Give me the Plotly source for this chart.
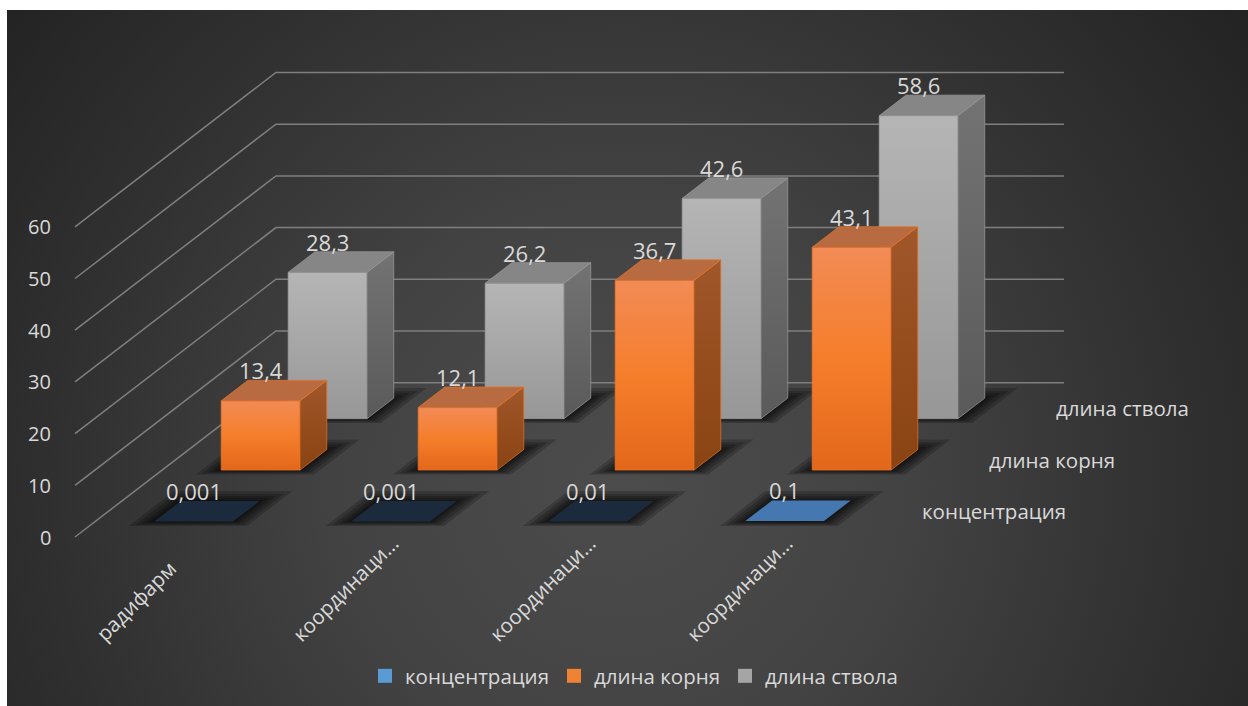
import base64
import plotly.graph_objects as go

# ---------------- data ----------------
CATEGORIES = ["радифарм", "координаци…", "координаци…", "координаци…"]
SERIES_NAMES = ["концентрация", "длина корня", "длина ствола"]
CONCENTRATION = [0.001, 0.001, 0.01, 0.1]
ROOT_LENGTH = [13.4, 12.1, 36.7, 43.1]
STEM_LENGTH = [28.3, 26.2, 42.6, 58.6]
VALUE_TICKS = [0, 10, 20, 30, 40, 50, 60]

SERIES_VALUES = [CONCENTRATION, ROOT_LENGTH, STEM_LENGTH]

# ---------------- styling ----------------
W, H = 1248, 706
FONT = "Open Sans"
LABEL_SIZE = 22      # data labels
TICK_SIZE = 20       # value-axis numbers
TEXT_SIZE = 20.5     # category / series / legend text
TEXT_COLOR = "#d9d9d9"
GRID_COLOR = "#7f7f7f"

# oblique projection: one depth row moves a point right/up by this much
DEPTH_U = 0.34      # in category units
DEPTH_V = 9.95      # in value units
N_ROWS = 3
BAR_LO, BAR_HI = 0.30, 0.70       # bar extent inside a category slot
DEPTH_LO, DEPTH_HI = 0.30, 0.70   # bar extent inside a depth row

FACE_STYLE = [
    dict(front=[[0, "#2f5f92"], [1, "#3f74ad"]],
         side=[[0, "#1f3f62"], [1, "#2a4f78"]],
         top=["#1b2b3d", "#1b2b3d", "#1b2b3d", "#4577b0"],
         edge="rgba(0,0,0,0)"),
    dict(front=[[0, "#e3671a"], [0.5, "#f57e2b"], [1, "#f28b56"]],
         side=[[0, "#8a4312"], [1, "#a0572a"]],
         top=["#b86a40"] * 4,
         edge="#e8742a"),
    dict(front=[[0, "#979797"], [1, "#b5b5b5"]],
         side=[[0, "#5a5a5a"], [1, "#737373"]],
         top=["#868686"] * 4,
         edge="#9c9c9c"),
]
LEGEND_COLORS = ["#5b9bd5", "#f08233", "#a5a5a5"]


def project(u, d, v):
    return u + d * DEPTH_U, v + d * DEPTH_V


def polygon(points):
    xs, ys = [], []
    for u, d, v in points:
        x, y = project(u, d, v)
        xs.append(x)
        ys.append(y)
    xs.append(xs[0])
    ys.append(ys[0])
    return xs, ys


def face(points, fill=None, gradient=None, edge="rgba(0,0,0,0)", width=0.7):
    xs, ys = polygon(points)
    kw = dict(x=xs, y=ys, mode="lines", fill="toself", hoverinfo="skip",
              showlegend=False, line=dict(color=edge, width=width))
    if gradient is not None:
        kw["fillgradient"] = dict(type="vertical", colorscale=gradient)
    else:
        kw["fillcolor"] = fill
    return go.Scatter(**kw)


def fmt(v):
    return f"{v:g}".replace(".", ",")


def font(size):
    return dict(family=FONT, size=size, color=TEXT_COLOR)


fig = go.Figure()

# ---- wall grid lines: left wall diagonal + back wall horizontal ----
gx, gy = [], []
for t in VALUE_TICKS:
    for u, d in ((0, 0), (0, N_ROWS), (len(CATEGORIES), N_ROWS)):
        x, y = project(u, d, t)
        gx.append(x)
        gy.append(y)
    gx.append(None)
    gy.append(None)
fig.add_trace(go.Scatter(x=gx, y=gy, mode="lines", hoverinfo="skip", showlegend=False,
                         line=dict(color=GRID_COLOR, width=1.5)))

# ---- soft floor shadows under every bar ----
SHADOW_STEPS = [(0.10, 0.14), (0.075, 0.10), (0.05, 0.07), (0.03, 0.04), (0.012, 0.015)]
for gu, gd in SHADOW_STEPS:
    sx, sy = [], []
    for r in range(N_ROWS):
        for i in range(len(CATEGORIES)):
            u0, u1 = i + BAR_LO - gu, i + BAR_HI + gu
            d0, d1 = r + DEPTH_LO - gd * 0.6, r + DEPTH_HI + gd * 1.4
            xs, ys = polygon([(u0, d0, 0), (u1, d0, 0), (u1, d1, 0), (u0, d1, 0)])
            sx += xs + [None]
            sy += ys + [None]
    fig.add_trace(go.Scatter(x=sx, y=sy, mode="lines", fill="toself", hoverinfo="skip",
                             showlegend=False, line=dict(width=0),
                             fillcolor="rgba(0,0,0,0.2)"))

# ---- 3-D columns, back row first ----
annotations = []
for r in reversed(range(N_ROWS)):
    style = FACE_STYLE[r]
    for i, h in enumerate(SERIES_VALUES[r]):
        u0, u1 = i + BAR_LO, i + BAR_HI
        d0, d1 = r + DEPTH_LO, r + DEPTH_HI
        fig.add_trace(face([(u0, d0, 0), (u1, d0, 0), (u1, d0, h), (u0, d0, h)],
                           gradient=style["front"], edge=style["edge"]))
        fig.add_trace(face([(u1, d0, 0), (u1, d1, 0), (u1, d1, h), (u1, d0, h)],
                           gradient=style["side"], edge=style["edge"]))
        fig.add_trace(face([(u0, d0, h), (u1, d0, h), (u1, d1, h), (u0, d1, h)],
                           fill=style["top"][i], edge=style["edge"]))
        lx, _ = project((u0 + u1) / 2, d0, 0)
        _, ly = project(0, d1, h)
        annotations.append(dict(x=lx, y=ly, text=fmt(h), showarrow=False,
                                xanchor="center", yanchor="bottom", yshift=-7,
                                font=font(LABEL_SIZE)))

# ---- value axis tick labels ----
for t in VALUE_TICKS:
    annotations.append(dict(x=-0.11, y=t, text=str(t), showarrow=False,
                            xanchor="right", yanchor="middle", font=font(TICK_SIZE)))

# ---- category labels (rotated) ----
for i, c in enumerate(CATEGORIES):
    annotations.append(dict(x=i + 0.5 - 0.44, y=-21.9, text=c, showarrow=False,
                            textangle=-45, xanchor="left", yanchor="bottom",
                            font=font(TEXT_SIZE)))

# ---- series labels along the depth axis ----
for r, name in enumerate(SERIES_NAMES):
    x, y = project(len(CATEGORIES) + 0.12, r + 0.5, 0)
    annotations.append(dict(x=x, y=y, text=name, showarrow=False,
                            xanchor="left", yanchor="middle", font=font(TEXT_SIZE)))

# ---- legend entries ----
for name, col in zip(SERIES_NAMES, LEGEND_COLORS):
    fig.add_trace(go.Scatter(x=[None], y=[None], mode="markers", name=name,
                             marker=dict(symbol="square", size=14, color=col)))

# ---- dark radial-gradient chart background ----
BG_W, BG_H = 1241, 696
bg_svg = f"""<svg xmlns="http://www.w3.org/2000/svg" width="{BG_W}" height="{BG_H}" viewBox="0 0 {BG_W} {BG_H}" preserveAspectRatio="none">
<defs><radialGradient id="g" cx="615" cy="470" r="780" gradientUnits="userSpaceOnUse">
<stop offset="0" stop-color="#4c4c4c"/><stop offset="0.35" stop-color="#434343"/>
<stop offset="0.7" stop-color="#313131"/><stop offset="1" stop-color="#232323"/>
</radialGradient></defs>
<rect width="{BG_W}" height="{BG_H}" fill="url(#g)"/></svg>"""
bg_src = "data:image/svg+xml;base64," + base64.b64encode(bg_svg.encode("utf-8")).decode("ascii")

fig.update_layout(
    width=W, height=H,
    margin=dict(l=0, r=0, t=0, b=0, pad=0),
    paper_bgcolor="white",
    plot_bgcolor="rgba(0,0,0,0)",
    xaxis=dict(range=[-0.3807, 5.9543], visible=False, fixedrange=True),
    yaxis=dict(range=[-32.69, 103.87], visible=False, fixedrange=True),
    images=[dict(source=bg_src, xref="paper", yref="paper",
                 x=(W - BG_W) / W, y=1 - (H - BG_H) / H,
                 sizex=BG_W / W, sizey=BG_H / H,
                 xanchor="left", yanchor="top", sizing="stretch", layer="below")],
    annotations=annotations,
    showlegend=True,
    legend=dict(orientation="h", x=0.508, xanchor="center", y=0.0425, yanchor="middle",
                bgcolor="rgba(0,0,0,0)", itemwidth=30, font=font(TEXT_SIZE)),
    font=dict(family=FONT),
)

fig.write_html("out.html")
